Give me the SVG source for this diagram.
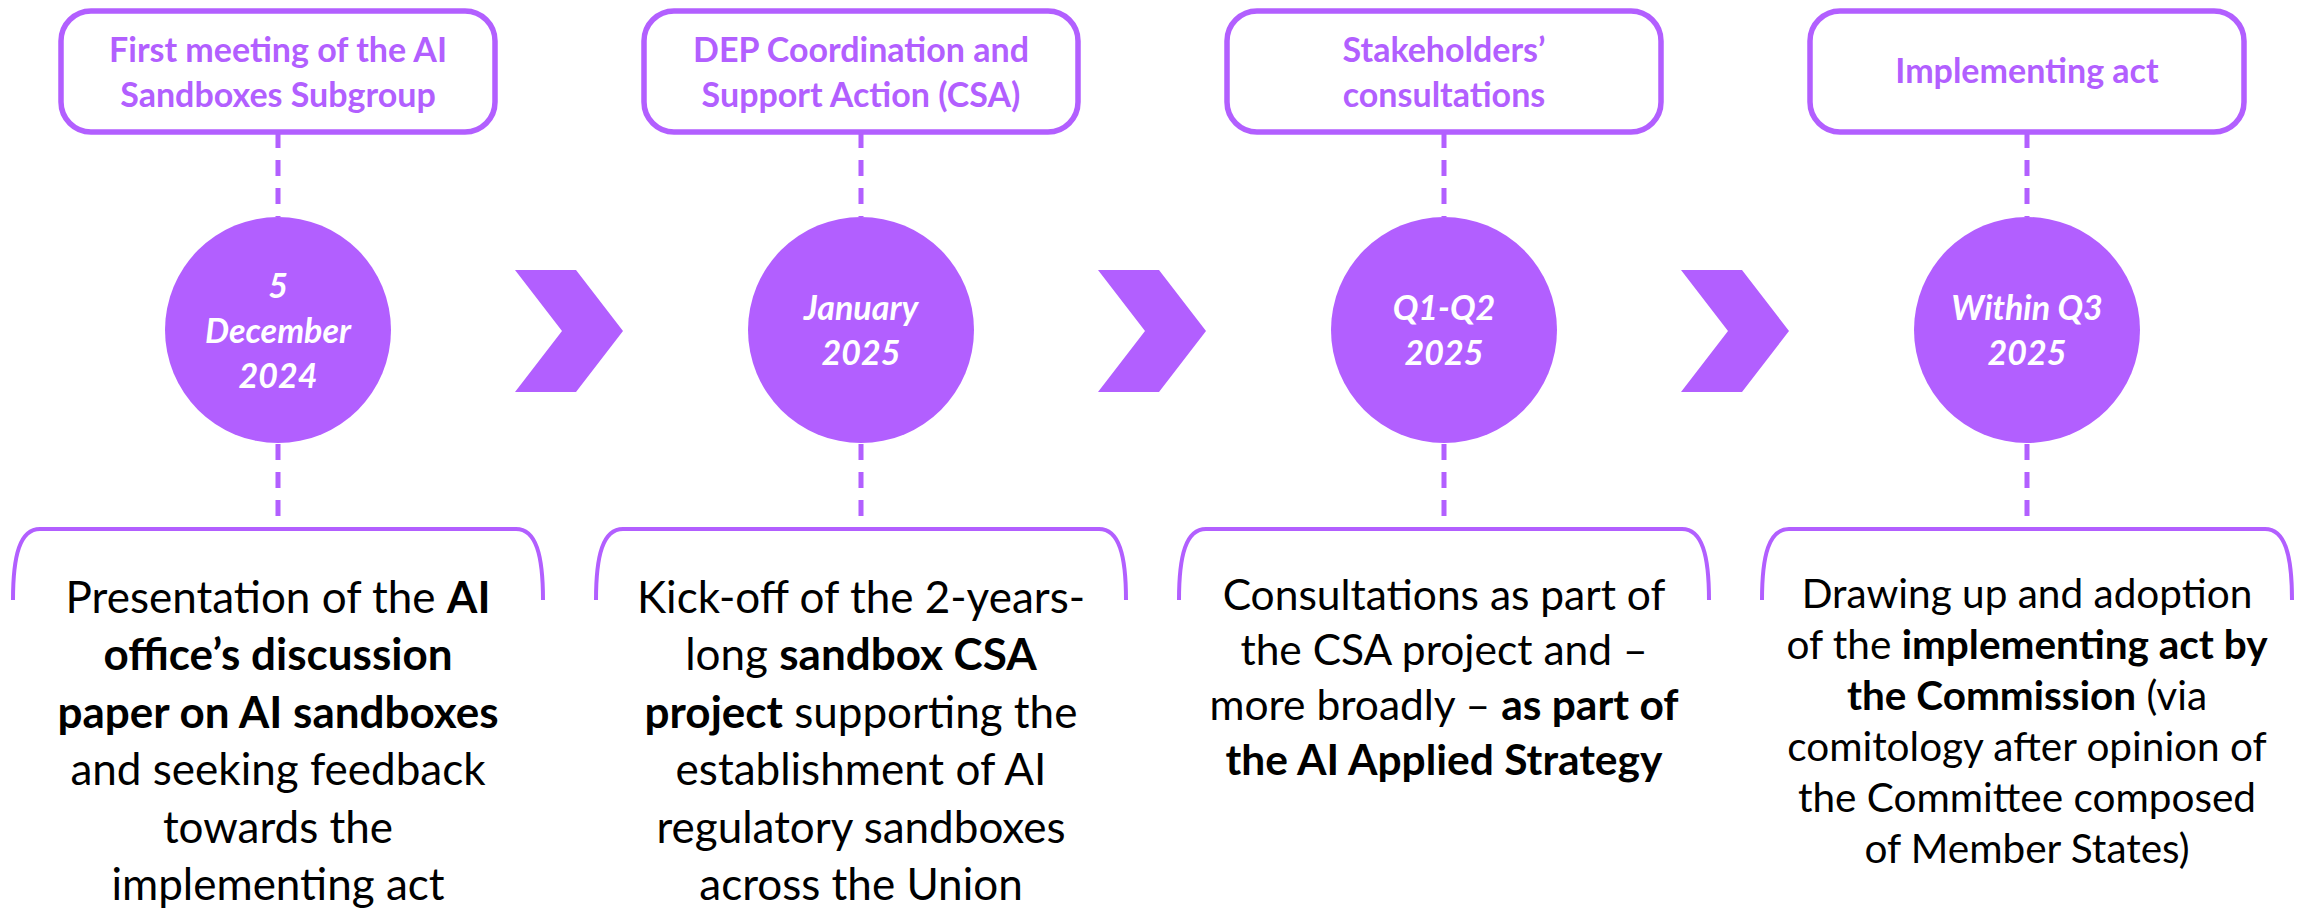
<svg xmlns="http://www.w3.org/2000/svg" width="2308" height="910" viewBox="0 0 2308 910">
<defs>
<style>
.box{fill:#fff;stroke:#B25FFF;stroke-width:5.5}
.dot{fill:#B25FFF}
.chev{fill:#B25FFF}
.dash{stroke:#B25FFF;stroke-width:5;stroke-dasharray:16 12;fill:none}
.brk{stroke:#B25FFF;stroke-width:4;fill:none}
.ttl{font-family:Lato,'Liberation Sans',sans-serif;font-weight:bold;font-size:34px;fill:#B25FFF;text-anchor:middle}
.dt{font-family:Lato,'Liberation Sans',sans-serif;font-weight:bold;font-style:italic;font-size:34px;fill:#fff;text-anchor:middle}
.bd{font-family:Lato,'Liberation Sans',sans-serif;font-size:44px;fill:#000;text-anchor:middle}
.bd3{font-family:Lato,'Liberation Sans',sans-serif;font-size:42.5px;fill:#000;text-anchor:middle}
.bd4{font-family:Lato,'Liberation Sans',sans-serif;font-size:40.5px;fill:#000;text-anchor:middle}
.b{font-weight:bold}
</style>
</defs>
<g id="connectors">
<line class="dash" x1="278" y1="132" x2="278" y2="217"/>
<line class="dash" x1="278" y1="444" x2="278" y2="528"/>
<line class="dash" x1="861" y1="132" x2="861" y2="217"/>
<line class="dash" x1="861" y1="444" x2="861" y2="528"/>
<line class="dash" x1="1444" y1="132" x2="1444" y2="217"/>
<line class="dash" x1="1444" y1="444" x2="1444" y2="528"/>
<line class="dash" x1="2027" y1="132" x2="2027" y2="217"/>
<line class="dash" x1="2027" y1="444" x2="2027" y2="528"/>
<polygon class="chev" points="515,270 576,270 623,331 576,392 515,392 562,331"/>
<polygon class="chev" points="1098,270 1159,270 1206,331 1159,392 1098,392 1145,331"/>
<polygon class="chev" points="1681,270 1742,270 1789,331 1742,392 1681,392 1728,331"/>
</g>
<g id="step1">
<rect class="box" x="61" y="11" width="434" height="121" rx="30"/>
<text class="ttl" x="278" y="62">First meeting of the AI</text>
<text class="ttl" x="278" y="107">Sandboxes Subgroup</text>
<circle class="dot" cx="278" cy="330" r="113"/>
<text class="dt" x="278" y="298">5</text>
<text class="dt" x="278" y="343">December</text>
<text class="dt" x="278" y="388">2024</text>
<path class="brk" d="M13,600 C13,555 20,529 40,529 H516 C536,529 543,555 543,600"/>
<text class="bd" x="278" y="613">Presentation of the <tspan class="b">AI</tspan></text>
<text class="bd b" x="278" y="670">office’s discussion</text>
<text class="bd b" x="278" y="728">paper on AI sandboxes</text>
<text class="bd" x="278" y="785">and seeking feedback</text>
<text class="bd" x="278" y="843">towards the</text>
<text class="bd" x="278" y="900">implementing act</text>
</g>
<g id="step2">
<rect class="box" x="644" y="11" width="434" height="121" rx="30"/>
<text class="ttl" x="861" y="62">DEP Coordination and</text>
<text class="ttl" x="861" y="107">Support Action (CSA)</text>
<circle class="dot" cx="861" cy="330" r="113"/>
<text class="dt" x="861" y="320">January</text>
<text class="dt" x="861" y="365">2025</text>
<path class="brk" d="M596,600 C596,555 603,529 623,529 H1099 C1119,529 1126,555 1126,600"/>
<text class="bd" x="861" y="613">Kick-off of the 2-years-</text>
<text class="bd" x="861" y="670">long <tspan class="b">sandbox CSA</tspan></text>
<text class="bd" x="861" y="728"><tspan class="b">project</tspan> supporting the</text>
<text class="bd" x="861" y="785">establishment of AI</text>
<text class="bd" x="861" y="843">regulatory sandboxes</text>
<text class="bd" x="861" y="900">across the Union</text>
</g>
<g id="step3">
<rect class="box" x="1227" y="11" width="434" height="121" rx="30"/>
<text class="ttl" x="1444" y="62">Stakeholders’</text>
<text class="ttl" x="1444" y="107">consultations</text>
<circle class="dot" cx="1444" cy="330" r="113"/>
<text class="dt" x="1444" y="320">Q1-Q2</text>
<text class="dt" x="1444" y="365">2025</text>
<path class="brk" d="M1179,600 C1179,555 1186,529 1206,529 H1682 C1702,529 1709,555 1709,600"/>
<text class="bd3" x="1444" y="610">Consultations as part of</text>
<text class="bd3" x="1444" y="665">the CSA project and –</text>
<text class="bd3" x="1444" y="720">more broadly – <tspan class="b">as part of</tspan></text>
<text class="bd3 b" x="1444" y="775">the AI Applied Strategy</text>
</g>
<g id="step4">
<rect class="box" x="1810" y="11" width="434" height="121" rx="30"/>
<text class="ttl" x="2027" y="83">Implementing act</text>
<circle class="dot" cx="2027" cy="330" r="113"/>
<text class="dt" x="2027" y="320">Within Q3</text>
<text class="dt" x="2027" y="365">2025</text>
<path class="brk" d="M1762,600 C1762,555 1769,529 1789,529 H2265 C2285,529 2292,555 2292,600"/>
<text class="bd4" x="2027" y="608">Drawing up and adoption</text>
<text class="bd4" x="2027" y="659">of the <tspan class="b">implementing act by</tspan></text>
<text class="bd4" x="2027" y="710"><tspan class="b">the Commission</tspan> (via</text>
<text class="bd4" x="2027" y="761">comitology after opinion of</text>
<text class="bd4" x="2027" y="812">the Committee composed</text>
<text class="bd4" x="2027" y="863">of Member States)</text>
</g>
</svg>
